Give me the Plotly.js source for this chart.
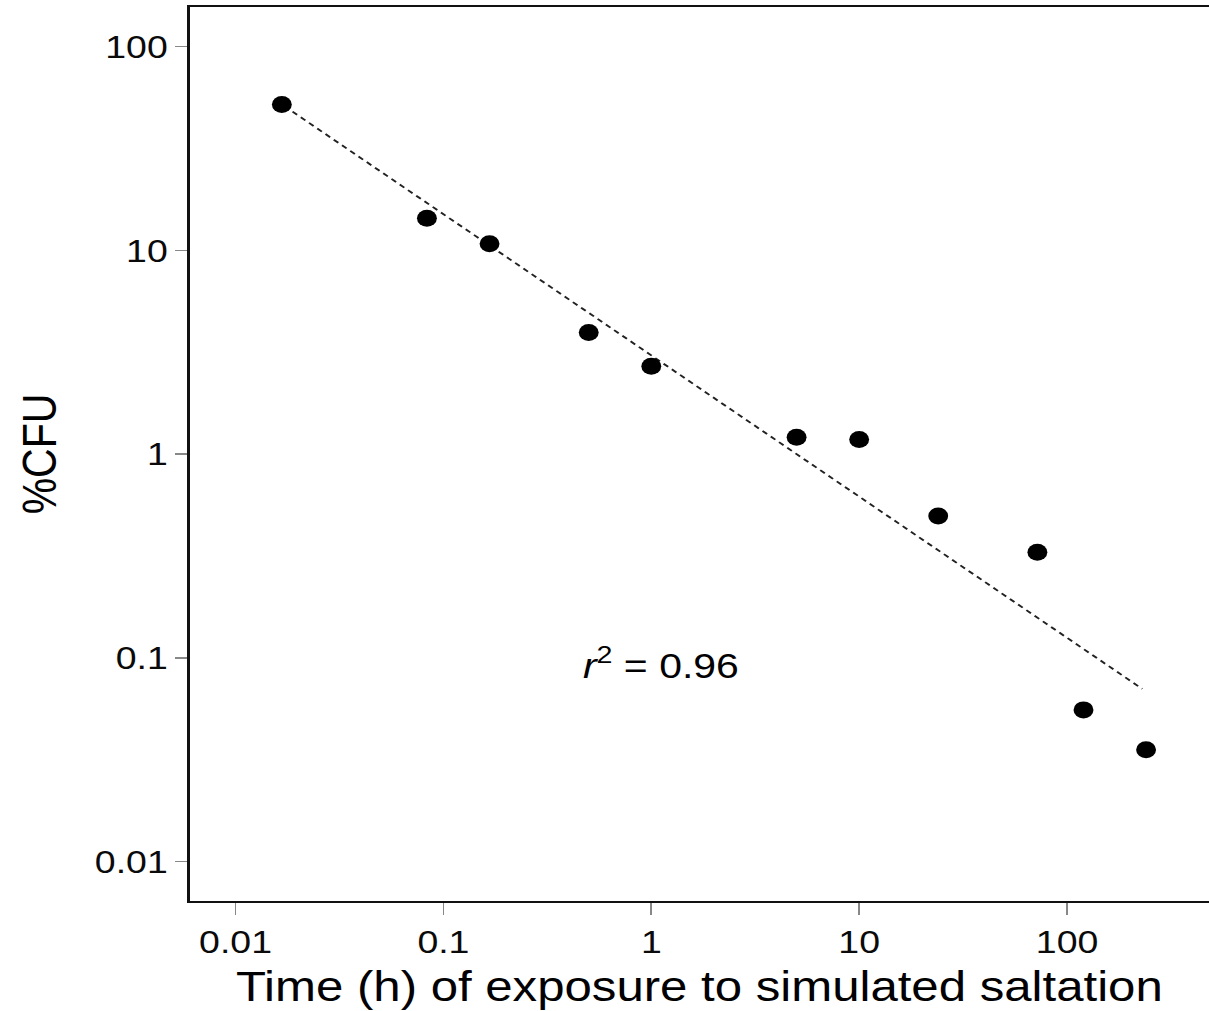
<!DOCTYPE html>
<html>
<head>
<meta charset="utf-8">
<script src="https://cdn.plot.ly/plotly-3.0.1.min.js"></script>
<style>
html, body { margin: 0; padding: 0; background: #fff; overflow: hidden; }
#wrap { width: 1209px; height: 1011px; overflow: hidden; }
#chart { width: 1033px; height: 1011px; transform: scaleX(1.1704); transform-origin: 0 0; }
</style>
</head>
<body>
<div id="wrap"><div id="chart"></div></div>
<script>
// Exposure time (h) and surviving %CFU
const timeHours = [0.0167, 0.0833, 0.1667, 0.5, 1, 5, 10, 24, 72, 120, 240];
const pctCFU    = [52, 14.4, 10.8, 3.96, 2.7, 1.21, 1.18, 0.497, 0.33, 0.0556, 0.0354];

// Fitted power-law line endpoints
const fitX = [0.0188, 230];
const fitY = [48, 0.0705];

const xTickVals = [0.01, 0.1, 1, 10, 100];
const xTickText = ['0.01', '0.1', '1', '10', '100'];
const yTickVals = [0.01, 0.1, 1, 10, 100];
const yTickText = ['0.01', '0.1', '1', '10', '100'];

const rSquaredText = '<i>r</i><sup>2</sup> = 0.96';

const FONT = 'Liberation Sans, Arial, Helvetica, sans-serif';

const traces = [
  {
    x: fitX, y: fitY, type: 'scatter', mode: 'lines',
    line: { color: '#222', width: 1.8, dash: '5px,4px' },
    hoverinfo: 'skip', showlegend: false
  },
  {
    x: timeHours, y: pctCFU, type: 'scatter', mode: 'markers',
    marker: { color: '#000', size: 17, symbol: 'circle' },
    showlegend: false
  }
];

const layout = {
  width: 1033, height: 1011,
  margin: { l: 161.5, r: 0, t: 7, b: 110, pad: 0 },
  paper_bgcolor: '#fff', plot_bgcolor: '#fff',
  font: { family: FONT, color: '#111' },
  showlegend: false,
  xaxis: {
    type: 'log', range: [-2.221, 2.683],
    tickvals: xTickVals, ticktext: xTickText,
    ticks: 'outside', ticklen: 12, tickwidth: 1.5, tickcolor: '#888',
    showline: true, linecolor: '#111', linewidth: 2, mirror: true,
    showgrid: false, zeroline: false,
    tickfont: { family: FONT, size: 32, color: '#0a0a0a' },
    title: { text: 'Time (h) of exposure to simulated saltation', font: { family: FONT, size: 42, color: '#000' }, standoff: 12 }
  },
  yaxis: {
    type: 'log', range: [-2.193, 2.195],
    tickvals: yTickVals, ticktext: yTickText,
    ticks: 'outside', ticklen: 10.3, tickwidth: 1.5, tickcolor: '#888',
    showline: true, linecolor: '#111', linewidth: 2, mirror: false,
    showgrid: false, zeroline: false,
    tickfont: { family: FONT, size: 32, color: '#0a0a0a' },
    title: { text: '%CFU', font: { family: FONT, size: 41, color: '#000' }, standoff: 20 }
  },
  annotations: [
    {
      x: -0.341, y: -1.023, xref: 'x', yref: 'y',
      text: rSquaredText, showarrow: false, xanchor: 'left', yanchor: 'middle',
      font: { family: FONT, size: 35, color: '#000' }
    }
  ]
};

Plotly.newPlot('chart', traces, layout, { displayModeBar: false, staticPlot: true });
</script>
</body>
</html>
